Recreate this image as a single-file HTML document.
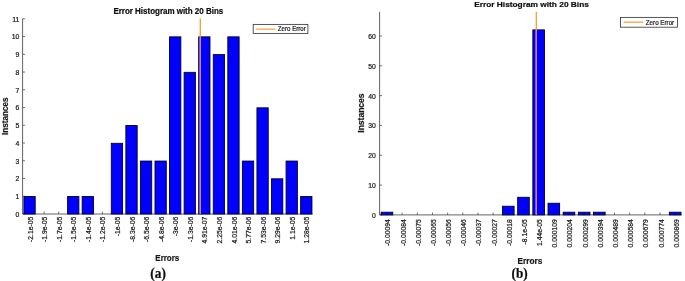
<!DOCTYPE html>
<html><head><meta charset="utf-8"><title>Error Histogram</title>
<style>
html,body{margin:0;padding:0;background:#fff;}
body{width:685px;height:281px;overflow:hidden;font-family:"Liberation Sans",sans-serif;}
svg{display:block;font-family:"Liberation Sans",sans-serif;}
</style></head><body>
<svg width="685" height="281" viewBox="0 0 685 281">
<defs><filter id="soft" x="0" y="0" width="685" height="281" filterUnits="userSpaceOnUse"><feGaussianBlur stdDeviation="0.4"/></filter></defs>
<rect width="685" height="281" fill="#fff"/>
<g filter="url(#soft)">
<rect width="685" height="281" fill="#fff"/>
<g>
<path d="M22.6 18.6V214.0H312.7" fill="none" stroke="#3a3a3a" stroke-width="0.8"/>
<text transform="translate(19.40 217.20)" text-anchor="end" font-size="6.9" fill="#1c1c1c" stroke="#1c1c1c" stroke-width="0.22">0</text>
<text transform="translate(19.40 199.15)" text-anchor="end" font-size="6.9" fill="#1c1c1c" stroke="#1c1c1c" stroke-width="0.22">1</text>
<text transform="translate(19.40 181.41)" text-anchor="end" font-size="6.9" fill="#1c1c1c" stroke="#1c1c1c" stroke-width="0.22">2</text>
<text transform="translate(19.40 163.66)" text-anchor="end" font-size="6.9" fill="#1c1c1c" stroke="#1c1c1c" stroke-width="0.22">3</text>
<text transform="translate(19.40 145.92)" text-anchor="end" font-size="6.9" fill="#1c1c1c" stroke="#1c1c1c" stroke-width="0.22">4</text>
<text transform="translate(19.40 128.17)" text-anchor="end" font-size="6.9" fill="#1c1c1c" stroke="#1c1c1c" stroke-width="0.22">5</text>
<text transform="translate(19.40 110.43)" text-anchor="end" font-size="6.9" fill="#1c1c1c" stroke="#1c1c1c" stroke-width="0.22">6</text>
<text transform="translate(19.40 92.68)" text-anchor="end" font-size="6.9" fill="#1c1c1c" stroke="#1c1c1c" stroke-width="0.22">7</text>
<text transform="translate(19.40 74.94)" text-anchor="end" font-size="6.9" fill="#1c1c1c" stroke="#1c1c1c" stroke-width="0.22">8</text>
<text transform="translate(19.40 57.19)" text-anchor="end" font-size="6.9" fill="#1c1c1c" stroke="#1c1c1c" stroke-width="0.22">9</text>
<text transform="translate(19.40 39.45)" text-anchor="end" font-size="6.9" fill="#1c1c1c" stroke="#1c1c1c" stroke-width="0.22">10</text>
<text transform="translate(19.40 21.70)" text-anchor="end" font-size="6.9" fill="#1c1c1c" stroke="#1c1c1c" stroke-width="0.22">11</text>
<text transform="translate(32.65 216.70) rotate(-90) scale(1.000 1.040)" text-anchor="end" font-size="6.8" fill="#1c1c1c" stroke="#1c1c1c" stroke-width="0.22">-2.1e-05</text>
<text transform="translate(47.22 216.70) rotate(-90) scale(1.000 1.040)" text-anchor="end" font-size="6.8" fill="#1c1c1c" stroke="#1c1c1c" stroke-width="0.22">-1.9e-05</text>
<text transform="translate(61.78 216.70) rotate(-90) scale(1.000 1.040)" text-anchor="end" font-size="6.8" fill="#1c1c1c" stroke="#1c1c1c" stroke-width="0.22">-1.7e-05</text>
<text transform="translate(76.34 216.70) rotate(-90) scale(1.000 1.040)" text-anchor="end" font-size="6.8" fill="#1c1c1c" stroke="#1c1c1c" stroke-width="0.22">-1.5e-05</text>
<text transform="translate(90.91 216.70) rotate(-90) scale(1.000 1.040)" text-anchor="end" font-size="6.8" fill="#1c1c1c" stroke="#1c1c1c" stroke-width="0.22">-1.4e-05</text>
<text transform="translate(105.48 216.70) rotate(-90) scale(1.000 1.040)" text-anchor="end" font-size="6.8" fill="#1c1c1c" stroke="#1c1c1c" stroke-width="0.22">-1.2e-05</text>
<text transform="translate(120.04 216.70) rotate(-90) scale(1.000 1.040)" text-anchor="end" font-size="6.8" fill="#1c1c1c" stroke="#1c1c1c" stroke-width="0.22">-1e-05</text>
<text transform="translate(134.60 216.70) rotate(-90) scale(1.000 1.040)" text-anchor="end" font-size="6.8" fill="#1c1c1c" stroke="#1c1c1c" stroke-width="0.22">-8.3e-06</text>
<text transform="translate(149.17 216.70) rotate(-90) scale(1.000 1.040)" text-anchor="end" font-size="6.8" fill="#1c1c1c" stroke="#1c1c1c" stroke-width="0.22">-6.5e-06</text>
<text transform="translate(163.73 216.70) rotate(-90) scale(1.000 1.040)" text-anchor="end" font-size="6.8" fill="#1c1c1c" stroke="#1c1c1c" stroke-width="0.22">-4.8e-06</text>
<text transform="translate(178.30 216.70) rotate(-90) scale(1.000 1.040)" text-anchor="end" font-size="6.8" fill="#1c1c1c" stroke="#1c1c1c" stroke-width="0.22">-3e-06</text>
<text transform="translate(192.86 216.70) rotate(-90) scale(1.000 1.040)" text-anchor="end" font-size="6.8" fill="#1c1c1c" stroke="#1c1c1c" stroke-width="0.22">-1.3e-06</text>
<text transform="translate(207.43 216.70) rotate(-90) scale(1.000 1.040)" text-anchor="end" font-size="6.8" fill="#1c1c1c" stroke="#1c1c1c" stroke-width="0.22">4.91e-07</text>
<text transform="translate(221.99 216.70) rotate(-90) scale(1.000 1.040)" text-anchor="end" font-size="6.8" fill="#1c1c1c" stroke="#1c1c1c" stroke-width="0.22">2.25e-06</text>
<text transform="translate(236.56 216.70) rotate(-90) scale(1.000 1.040)" text-anchor="end" font-size="6.8" fill="#1c1c1c" stroke="#1c1c1c" stroke-width="0.22">4.01e-06</text>
<text transform="translate(251.12 216.70) rotate(-90) scale(1.000 1.040)" text-anchor="end" font-size="6.8" fill="#1c1c1c" stroke="#1c1c1c" stroke-width="0.22">5.77e-06</text>
<text transform="translate(265.69 216.70) rotate(-90) scale(1.000 1.040)" text-anchor="end" font-size="6.8" fill="#1c1c1c" stroke="#1c1c1c" stroke-width="0.22">7.53e-06</text>
<text transform="translate(280.25 216.70) rotate(-90) scale(1.000 1.040)" text-anchor="end" font-size="6.8" fill="#1c1c1c" stroke="#1c1c1c" stroke-width="0.22">9.29e-06</text>
<text transform="translate(294.82 216.70) rotate(-90) scale(1.000 1.040)" text-anchor="end" font-size="6.8" fill="#1c1c1c" stroke="#1c1c1c" stroke-width="0.22">1.1e-05</text>
<text transform="translate(309.39 216.70) rotate(-90) scale(1.000 1.040)" text-anchor="end" font-size="6.8" fill="#1c1c1c" stroke="#1c1c1c" stroke-width="0.22">1.28e-05</text>
<path d="M22.6 214.00h2.4M22.6 196.25h2.4M22.6 178.51h2.4M22.6 160.76h2.4M22.6 143.02h2.4M22.6 125.27h2.4M22.6 107.53h2.4M22.6 89.78h2.4M22.6 72.04h2.4M22.6 54.29h2.4M22.6 36.55h2.4M22.6 18.80h2.4M29.55 214.0v-2.4M44.12 214.0v-2.4M58.68 214.0v-2.4M73.25 214.0v-2.4M87.81 214.0v-2.4M102.38 214.0v-2.4M116.94 214.0v-2.4M131.50 214.0v-2.4M146.07 214.0v-2.4M160.63 214.0v-2.4M175.20 214.0v-2.4M189.76 214.0v-2.4M204.33 214.0v-2.4M218.89 214.0v-2.4M233.46 214.0v-2.4M248.02 214.0v-2.4M262.59 214.0v-2.4M277.15 214.0v-2.4M291.72 214.0v-2.4M306.29 214.0v-2.4" fill="none" stroke="#3a3a3a" stroke-width="0.7"/>
<rect x="23.90" y="196.55" width="11.30" height="17.45" fill="#0000fe" stroke="#000028" stroke-width="0.9"/>
<rect x="67.59" y="196.55" width="11.30" height="17.45" fill="#0000fe" stroke="#000028" stroke-width="0.9"/>
<rect x="82.16" y="196.55" width="11.30" height="17.45" fill="#0000fe" stroke="#000028" stroke-width="0.9"/>
<rect x="111.29" y="143.32" width="11.30" height="70.68" fill="#0000fe" stroke="#000028" stroke-width="0.9"/>
<rect x="125.86" y="125.57" width="11.30" height="88.43" fill="#0000fe" stroke="#000028" stroke-width="0.9"/>
<rect x="140.42" y="161.06" width="11.30" height="52.94" fill="#0000fe" stroke="#000028" stroke-width="0.9"/>
<rect x="154.99" y="161.06" width="11.30" height="52.94" fill="#0000fe" stroke="#000028" stroke-width="0.9"/>
<rect x="169.55" y="36.85" width="11.30" height="177.15" fill="#0000fe" stroke="#000028" stroke-width="0.9"/>
<rect x="184.12" y="72.34" width="11.30" height="141.66" fill="#0000fe" stroke="#000028" stroke-width="0.9"/>
<rect x="198.68" y="36.85" width="11.30" height="177.15" fill="#0000fe" stroke="#000028" stroke-width="0.9"/>
<rect x="213.25" y="54.59" width="11.30" height="159.41" fill="#0000fe" stroke="#000028" stroke-width="0.9"/>
<rect x="227.81" y="36.85" width="11.30" height="177.15" fill="#0000fe" stroke="#000028" stroke-width="0.9"/>
<rect x="242.38" y="161.06" width="11.30" height="52.94" fill="#0000fe" stroke="#000028" stroke-width="0.9"/>
<rect x="256.94" y="107.83" width="11.30" height="106.17" fill="#0000fe" stroke="#000028" stroke-width="0.9"/>
<rect x="271.50" y="178.81" width="11.30" height="35.19" fill="#0000fe" stroke="#000028" stroke-width="0.9"/>
<rect x="286.07" y="161.06" width="11.30" height="52.94" fill="#0000fe" stroke="#000028" stroke-width="0.9"/>
<rect x="300.64" y="196.55" width="11.30" height="17.45" fill="#0000fe" stroke="#000028" stroke-width="0.9"/>
<line x1="200.3" x2="200.3" y1="18.6" y2="213.7" stroke="#f0a02c" stroke-width="1.3"/>
<line x1="200.3" x2="200.3" y1="37.15" y2="213.7" stroke="#c8809c" stroke-width="1.45"/>
<text transform="translate(168.30 14.40) scale(0.962 1.000)" text-anchor="middle" font-size="8.3" fill="#111" stroke="#111" stroke-width="0.22" font-weight="bold">Error Histogram with 20 Bins</text>
<text transform="translate(7.70 116.30) rotate(-90) scale(0.994 1.000)" text-anchor="middle" font-size="8.2" fill="#1a1a1a" stroke="#1a1a1a" stroke-width="0.22" font-weight="bold">Instances</text>
<text transform="translate(167.30 260.80) scale(0.941 1.000)" text-anchor="middle" font-size="8.5" fill="#1a1a1a" stroke="#1a1a1a" stroke-width="0.22" font-weight="bold">Errors</text>
<text transform="translate(158.10 278.00) scale(0.956 1.000)" text-anchor="middle" font-size="14.0" fill="#111" stroke="#111" stroke-width="0.22" font-weight="bold" font-family="'Liberation Serif',serif">(a)</text>
<rect x="253.2" y="24.4" width="54.7" height="9.0" fill="#fff" stroke="#3a3a3a" stroke-width="0.85"/>
<line x1="256.2" x2="275.5" y1="29.15" y2="29.15" stroke="#f0a02c" stroke-width="1.2"/>
<text transform="translate(291.80 31.45) scale(0.945 1.000)" text-anchor="middle" font-size="6.5" fill="#222" stroke="#222" stroke-width="0.22">Zero Error</text>
</g>
<g>
<path d="M379.6 11.8V214.9H681.6" fill="none" stroke="#3a3a3a" stroke-width="0.8"/>
<text transform="translate(375.90 218.20)" text-anchor="end" font-size="6.8" fill="#1c1c1c" stroke="#1c1c1c" stroke-width="0.22">0</text>
<text transform="translate(375.90 188.08)" text-anchor="end" font-size="6.8" fill="#1c1c1c" stroke="#1c1c1c" stroke-width="0.22">10</text>
<text transform="translate(375.90 158.26)" text-anchor="end" font-size="6.8" fill="#1c1c1c" stroke="#1c1c1c" stroke-width="0.22">20</text>
<text transform="translate(375.90 128.44)" text-anchor="end" font-size="6.8" fill="#1c1c1c" stroke="#1c1c1c" stroke-width="0.22">30</text>
<text transform="translate(375.90 98.62)" text-anchor="end" font-size="6.8" fill="#1c1c1c" stroke="#1c1c1c" stroke-width="0.22">40</text>
<text transform="translate(375.90 68.80)" text-anchor="end" font-size="6.8" fill="#1c1c1c" stroke="#1c1c1c" stroke-width="0.22">50</text>
<text transform="translate(375.90 38.98)" text-anchor="end" font-size="6.8" fill="#1c1c1c" stroke="#1c1c1c" stroke-width="0.22">60</text>
<text transform="translate(390.45 219.20) rotate(-90) scale(1.000 1.040)" text-anchor="end" font-size="6.8" fill="#1c1c1c" stroke="#1c1c1c" stroke-width="0.22">-0.00094</text>
<text transform="translate(405.62 219.20) rotate(-90) scale(1.000 1.040)" text-anchor="end" font-size="6.8" fill="#1c1c1c" stroke="#1c1c1c" stroke-width="0.22">-0.00084</text>
<text transform="translate(420.79 219.20) rotate(-90) scale(1.000 1.040)" text-anchor="end" font-size="6.8" fill="#1c1c1c" stroke="#1c1c1c" stroke-width="0.22">-0.00075</text>
<text transform="translate(435.96 219.20) rotate(-90) scale(1.000 1.040)" text-anchor="end" font-size="6.8" fill="#1c1c1c" stroke="#1c1c1c" stroke-width="0.22">-0.00065</text>
<text transform="translate(451.13 219.20) rotate(-90) scale(1.000 1.040)" text-anchor="end" font-size="6.8" fill="#1c1c1c" stroke="#1c1c1c" stroke-width="0.22">-0.00056</text>
<text transform="translate(466.30 219.20) rotate(-90) scale(1.000 1.040)" text-anchor="end" font-size="6.8" fill="#1c1c1c" stroke="#1c1c1c" stroke-width="0.22">-0.00046</text>
<text transform="translate(481.47 219.20) rotate(-90) scale(1.000 1.040)" text-anchor="end" font-size="6.8" fill="#1c1c1c" stroke="#1c1c1c" stroke-width="0.22">-0.00037</text>
<text transform="translate(496.64 219.20) rotate(-90) scale(1.000 1.040)" text-anchor="end" font-size="6.8" fill="#1c1c1c" stroke="#1c1c1c" stroke-width="0.22">-0.00027</text>
<text transform="translate(511.81 219.20) rotate(-90) scale(1.000 1.040)" text-anchor="end" font-size="6.8" fill="#1c1c1c" stroke="#1c1c1c" stroke-width="0.22">-0.00018</text>
<text transform="translate(526.98 219.20) rotate(-90) scale(1.000 1.040)" text-anchor="end" font-size="6.8" fill="#1c1c1c" stroke="#1c1c1c" stroke-width="0.22">-8.1e-05</text>
<text transform="translate(542.15 219.20) rotate(-90) scale(1.000 1.040)" text-anchor="end" font-size="6.8" fill="#1c1c1c" stroke="#1c1c1c" stroke-width="0.22">1.44e-05</text>
<text transform="translate(557.32 219.20) rotate(-90) scale(1.000 1.040)" text-anchor="end" font-size="6.8" fill="#1c1c1c" stroke="#1c1c1c" stroke-width="0.22">0.000109</text>
<text transform="translate(572.49 219.20) rotate(-90) scale(1.000 1.040)" text-anchor="end" font-size="6.8" fill="#1c1c1c" stroke="#1c1c1c" stroke-width="0.22">0.000204</text>
<text transform="translate(587.66 219.20) rotate(-90) scale(1.000 1.040)" text-anchor="end" font-size="6.8" fill="#1c1c1c" stroke="#1c1c1c" stroke-width="0.22">0.000299</text>
<text transform="translate(602.83 219.20) rotate(-90) scale(1.000 1.040)" text-anchor="end" font-size="6.8" fill="#1c1c1c" stroke="#1c1c1c" stroke-width="0.22">0.000394</text>
<text transform="translate(618.00 219.20) rotate(-90) scale(1.000 1.040)" text-anchor="end" font-size="6.8" fill="#1c1c1c" stroke="#1c1c1c" stroke-width="0.22">0.000489</text>
<text transform="translate(633.17 219.20) rotate(-90) scale(1.000 1.040)" text-anchor="end" font-size="6.8" fill="#1c1c1c" stroke="#1c1c1c" stroke-width="0.22">0.000584</text>
<text transform="translate(648.34 219.20) rotate(-90) scale(1.000 1.040)" text-anchor="end" font-size="6.8" fill="#1c1c1c" stroke="#1c1c1c" stroke-width="0.22">0.000679</text>
<text transform="translate(663.51 219.20) rotate(-90) scale(1.000 1.040)" text-anchor="end" font-size="6.8" fill="#1c1c1c" stroke="#1c1c1c" stroke-width="0.22">0.000774</text>
<text transform="translate(678.68 219.20) rotate(-90) scale(1.000 1.040)" text-anchor="end" font-size="6.8" fill="#1c1c1c" stroke="#1c1c1c" stroke-width="0.22">0.000869</text>
<path d="M379.6 214.90h2.4M379.6 185.08h2.4M379.6 155.26h2.4M379.6 125.44h2.4M379.6 95.62h2.4M379.6 65.80h2.4M379.6 35.98h2.4M386.95 214.9v-2.4M402.12 214.9v-2.4M417.29 214.9v-2.4M432.46 214.9v-2.4M447.63 214.9v-2.4M462.80 214.9v-2.4M477.97 214.9v-2.4M493.14 214.9v-2.4M508.31 214.9v-2.4M523.48 214.9v-2.4M538.65 214.9v-2.4M553.82 214.9v-2.4M568.99 214.9v-2.4M584.16 214.9v-2.4M599.33 214.9v-2.4M614.50 214.9v-2.4M629.67 214.9v-2.4M644.84 214.9v-2.4M660.01 214.9v-2.4M675.18 214.9v-2.4" fill="none" stroke="#3a3a3a" stroke-width="0.7"/>
<rect x="381.15" y="212.21" width="11.60" height="2.69" fill="#0000fe" stroke="#000028" stroke-width="0.9"/>
<rect x="502.51" y="206.23" width="11.60" height="8.67" fill="#0000fe" stroke="#000028" stroke-width="0.9"/>
<rect x="517.68" y="197.27" width="11.60" height="17.63" fill="#0000fe" stroke="#000028" stroke-width="0.9"/>
<rect x="532.85" y="29.88" width="11.60" height="185.02" fill="#0000fe" stroke="#000028" stroke-width="0.9"/>
<rect x="548.02" y="203.24" width="11.60" height="11.66" fill="#0000fe" stroke="#000028" stroke-width="0.9"/>
<rect x="563.19" y="212.21" width="11.60" height="2.69" fill="#0000fe" stroke="#000028" stroke-width="0.9"/>
<rect x="578.36" y="212.21" width="11.60" height="2.69" fill="#0000fe" stroke="#000028" stroke-width="0.9"/>
<rect x="593.53" y="212.21" width="11.60" height="2.69" fill="#0000fe" stroke="#000028" stroke-width="0.9"/>
<rect x="669.38" y="212.21" width="11.60" height="2.69" fill="#0000fe" stroke="#000028" stroke-width="0.9"/>
<line x1="536.3" x2="536.3" y1="11.8" y2="214.6" stroke="#f0a02c" stroke-width="1.3"/>
<line x1="536.3" x2="536.3" y1="30.18" y2="214.6" stroke="#c8809c" stroke-width="1.45"/>
<text transform="translate(531.50 6.80) scale(1.043 1.000)" text-anchor="middle" font-size="8.0" fill="#111" stroke="#111" stroke-width="0.22" font-weight="bold">Error Histogram with 20 Bins</text>
<text transform="translate(364.10 113.10) rotate(-90) scale(1.026 1.000)" text-anchor="middle" font-size="8.3" fill="#1a1a1a" stroke="#1a1a1a" stroke-width="0.22" font-weight="bold">Instances</text>
<text transform="translate(530.00 263.60) scale(0.995 1.000)" text-anchor="middle" font-size="8.3" fill="#1a1a1a" stroke="#1a1a1a" stroke-width="0.22" font-weight="bold">Errors</text>
<text transform="translate(519.60 278.40) scale(0.947 1.000)" text-anchor="middle" font-size="14.0" fill="#111" stroke="#111" stroke-width="0.22" font-weight="bold" font-family="'Liberation Serif',serif">(b)</text>
<rect x="620.5" y="17.4" width="57.0" height="9.8" fill="#fff" stroke="#3a3a3a" stroke-width="0.85"/>
<line x1="623.6" x2="643.2" y1="22.2" y2="22.2" stroke="#f0a02c" stroke-width="1.2"/>
<text transform="translate(660.00 24.50) scale(0.959 1.000)" text-anchor="middle" font-size="6.5" fill="#222" stroke="#222" stroke-width="0.22">Zero Error</text>
</g>
</g>
</svg>
</body></html>
